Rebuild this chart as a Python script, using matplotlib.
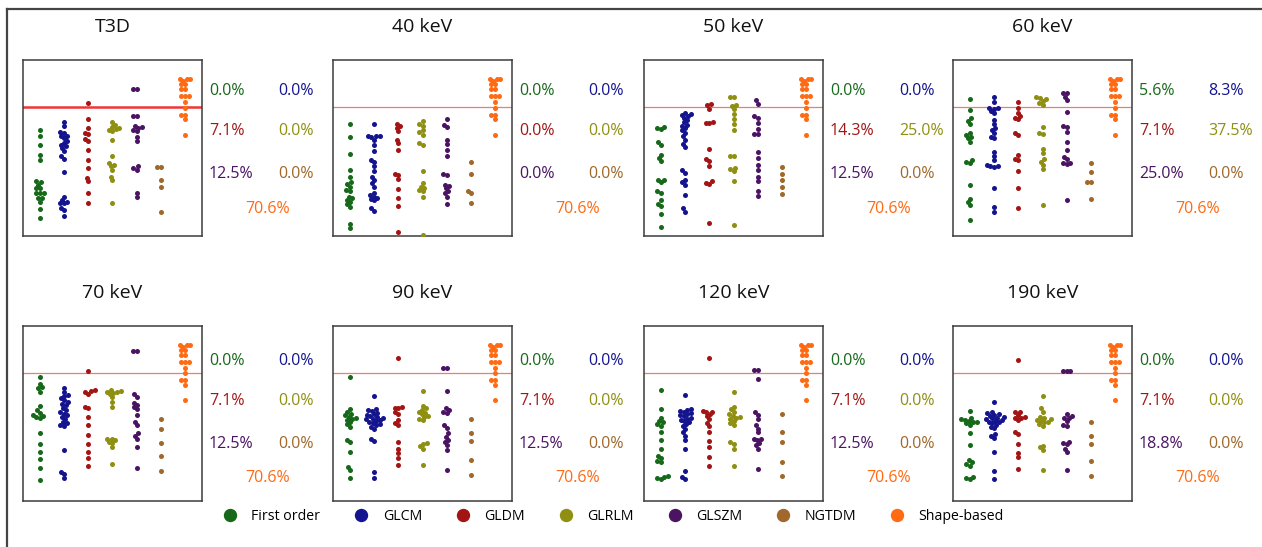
import matplotlib
matplotlib.use("Agg")
import matplotlib.pyplot as plt
import numpy as np
from matplotlib.lines import Line2D

plt.rcParams['font.family'] = ['Open Sans', 'DejaVu Sans']

# feature groups and their colours
groups = ["First order", "GLCM", "GLDM", "GLRLM", "GLSZM", "NGTDM", "Shape-based"]
colors = ["#17691a", "#14148f", "#a31515", "#8f8f12", "#4a1463", "#a0682a", "#ff6a13"]

# threshold line (same scale as the values, 0-100 over the box height)
THRESH = 73.3

# shape-based features are the same in every panel
shape = [89.0, 89.0, 89.0, 88.0, 86.1, 86.1, 83.3, 83.3, 79.5, 79.5, 79.5, 76.0,
         73.0, 69.0, 69.0, 66.2, 57.6]

# T3D
first_t3d = [60.5, 56.7, 51.5, 46.2, 43.3, 31.0, 30.4, 29.1, 27.2, 27.2, 24.3, 24.3,
             24.3, 21.5, 21.5, 19.6, 15.2, 10.1]
glcm_t3d = [64.6, 62.4, 58.9, 58.6, 56.7, 56.7, 55.7, 53.8, 52.9, 51.9, 51.0, 50.0,
            48.1, 45.2, 43.7, 36.1, 22.4, 20.5, 19.6, 18.6, 18.6, 15.8, 14.8, 11.4]
gldm_t3d = [75.7, 66.2, 61.4, 58.6, 58.2, 55.1, 53.8, 49.0, 43.3, 38.6, 32.9, 31.0, 24.3, 18.6]
glrlm_t3d = [64.6, 63.3, 62.0, 61.4, 60.8, 60.5, 59.5, 54.8, 45.6, 41.4, 40.5, 39.5,
             37.6, 33.8, 31.9, 19.0]
glszm_t3d = [83.3, 83.3, 68.1, 68.1, 62.7, 62.0, 61.4, 60.5, 59.5, 56.3, 53.8, 39.5,
             38.6, 37.6, 24.7, 22.4]
ngtdm_t3d = [39.2, 39.0, 31.9, 27.8, 13.5]

# 40 keV
first_40 = [63.7, 56.3, 46.8, 37.3, 33.8, 30.4, 29.7, 28.1, 26.2, 25.3, 22.4, 21.5,
            20.5, 19.6, 18.3, 16.7, 6.8, 4.4]
glcm_40 = [63.7, 57.0, 56.7, 56.7, 56.3, 54.8, 51.9, 48.1, 43.3, 41.8, 39.5, 36.7,
           33.8, 31.9, 30.0, 28.1, 24.7, 23.4, 22.4, 21.5, 20.9, 20.2, 15.8, 14.4]
gldm_40 = [63.9, 62.4, 61.4, 59.5, 54.8, 52.9, 49.0, 35.2, 34.8, 32.3, 26.6, 21.5, 17.1, 2.5]
glrlm_40 = [65.2, 63.9, 62.7, 60.5, 58.9, 57.6, 52.9, 51.9, 36.7, 30.0, 28.1, 27.2,
            26.2, 25.3, 22.4, 0.6]
glszm_40 = [66.5, 63.3, 62.0, 54.8, 52.5, 49.0, 45.2, 35.2, 34.8, 29.1, 28.5, 27.2,
            25.3, 24.3, 22.4, 18.3]
ngtdm_40 = [42.0, 35.2, 25.3, 24.3, 19.0]

# 50 keV
first_50 = [61.8, 61.4, 60.8, 53.2, 51.9, 46.2, 44.3, 42.4, 31.9, 31.6, 30.4, 25.3,
            24.7, 20.5, 18.3, 17.1, 12.5, 4.9]
glcm_50 = [70.0, 69.4, 68.6, 68.0, 67.0, 65.7, 64.6, 63.3, 62.4, 61.4, 60.1, 58.6,
           56.7, 54.8, 52.5, 50.6, 37.3, 35.8, 31.9, 30.4, 29.1, 23.4, 15.8, 13.9]
gldm_50 = [75.2, 74.2, 72.4, 64.8, 64.4, 64.0, 49.5, 43.8, 42.5, 39.6, 31.0, 30.1, 29.7, 7.2]
glrlm_50 = [79.2, 79.0, 74.3, 74.0, 72.0, 69.1, 66.3, 63.4, 60.2, 45.7, 45.3, 38.7,
            38.1, 36.8, 31.0, 6.3]
glszm_50 = [77.1, 75.2, 68.2, 67.2, 64.0, 61.0, 57.7, 57.7, 47.8, 44.4, 40.2, 37.7,
            33.5, 31.0, 25.3, 22.9]
ngtdm_50 = [39.2, 35.4, 31.6, 27.8, 24.0]

# 60 keV
first_60 = [77.6, 71.5, 66.8, 65.5, 63.6, 58.3, 57.3, 56.4, 55.4, 53.5, 43.1, 42.1,
            41.2, 28.8, 21.3, 19.4, 17.5, 8.9]
glcm_60 = [78.7, 76.3, 72.8, 72.5, 72.0, 70.8, 69.8, 66.0, 63.5, 61.6, 60.3, 58.4,
           56.5, 55.5, 48.0, 45.7, 43.3, 40.4, 40.0, 39.6, 39.2, 27.3, 16.3, 13.5]
gldm_60 = [76.3, 72.5, 70.0, 68.1, 66.8, 66.2, 58.3, 57.3, 45.9, 43.5, 43.1, 37.0, 27.5, 16.1]
glrlm_60 = [78.7, 78.2, 77.6, 76.9, 75.7, 74.4, 62.0, 58.6, 57.9, 49.7, 47.2, 43.5,
            42.1, 40.2, 37.8, 17.5]
glszm_60 = [81.4, 81.0, 79.1, 77.2, 70.6, 62.4, 61.7, 59.2, 53.5, 48.8, 45.0, 43.5,
            41.6, 41.2, 40.8, 20.7]
ngtdm_60 = [41.2, 36.4, 30.7, 30.5, 21.3]

# 70 keV
first_70 = [70.9, 67.1, 65.2, 64.3, 62.4, 54.2, 51.9, 50.4, 49.0, 48.5, 48.1, 47.7,
            39.0, 32.5, 28.1, 23.8, 18.6, 12.0]
glcm_70 = [64.8, 62.4, 60.5, 59.9, 58.6, 57.6, 56.7, 55.7, 54.8, 53.4, 51.9, 51.0,
           50.0, 49.0, 48.1, 47.1, 45.2, 44.3, 43.3, 42.8, 29.1, 16.7, 15.4, 12.9]
gldm_70 = [74.5, 63.7, 62.9, 62.4, 61.4, 53.8, 53.4, 48.1, 43.3, 37.6, 32.5, 28.1, 24.3, 20.0]
glrlm_70 = [63.3, 62.9, 62.4, 62.2, 61.8, 61.0, 59.5, 56.7, 53.8, 35.7, 35.4, 34.8,
            33.8, 33.3, 30.6, 21.1]
glszm_70 = [85.6, 85.6, 61.0, 59.5, 56.1, 54.8, 53.8, 52.3, 49.0, 45.2, 43.3, 38.6,
            37.1, 35.2, 31.0, 18.6]
ngtdm_70 = [46.6, 40.9, 32.9, 25.7, 17.3]

# 90 keV
first_90 = [70.9, 52.3, 51.0, 50.0, 49.0, 48.1, 47.7, 47.1, 46.2, 45.2, 43.9, 42.4,
            34.8, 33.8, 28.1, 19.6, 17.7, 12.9]
glcm_90 = [59.9, 52.3, 51.9, 51.5, 50.4, 49.6, 49.0, 48.5, 48.1, 47.7, 47.1, 46.6,
           46.2, 45.8, 45.2, 44.7, 43.9, 43.3, 42.4, 41.4, 35.7, 34.4, 16.7, 12.9]
gldm_90 = [81.7, 53.8, 53.4, 52.9, 51.0, 49.6, 46.2, 44.3, 43.3, 33.8, 30.0, 27.6, 24.3, 20.5]
glrlm_90 = [62.9, 54.2, 52.9, 51.9, 51.0, 50.4, 49.6, 48.5, 48.1, 47.1, 46.2, 32.9,
            32.3, 31.4, 30.0, 20.5]
glszm_90 = [76.0, 76.0, 62.9, 52.9, 51.9, 51.1, 50.4, 43.3, 42.0, 38.6, 36.7, 34.8,
            33.8, 31.9, 29.1, 17.7]
ngtdm_90 = [46.6, 38.6, 34.2, 23.4, 14.8]

# 120 keV
first_120 = [63.5, 52.5, 47.7, 45.8, 44.9, 43.9, 43.0, 39.2, 35.0, 29.7, 25.9, 24.3,
             23.0, 22.1, 14.4, 13.9, 13.3, 12.5]
glcm_120 = [60.5, 52.5, 52.1, 51.5, 51.0, 50.2, 49.6, 49.0, 48.3, 47.7, 47.1, 46.4,
            45.8, 44.9, 43.9, 43.0, 41.4, 39.2, 37.3, 35.0, 29.7, 17.3, 13.5, 12.5]
gldm_120 = [81.9, 51.5, 51.1, 50.6, 49.6, 48.3, 46.8, 44.5, 42.6, 39.2, 34.4, 30.6, 24.9, 20.2]
glrlm_120 = [62.4, 54.0, 52.5, 51.0, 49.6, 48.7, 48.1, 47.5, 46.8, 45.8, 44.5, 43.3,
             33.8, 32.5, 30.0, 20.2]
glszm_120 = [74.6, 74.6, 70.0, 50.6, 49.0, 46.8, 43.3, 41.4, 39.2, 35.7, 35.4, 35.0,
             33.1, 31.9, 30.0, 18.3]
ngtdm_120 = [49.6, 39.2, 33.5, 22.4, 14.4]

# 190 keV
first_190 = [51.5, 47.7, 46.8, 46.2, 45.8, 45.4, 44.9, 44.3, 43.5, 38.6, 32.1, 23.4,
             22.1, 21.1, 20.2, 13.9, 13.1, 12.5]
glcm_190 = [56.3, 51.1, 50.4, 49.6, 49.2, 48.7, 48.1, 47.7, 47.3, 46.8, 46.2, 45.8,
            45.4, 44.9, 44.3, 43.5, 42.4, 41.6, 38.2, 37.3, 35.9, 27.8, 17.3, 12.5]
gldm_190 = [80.4, 51.1, 50.6, 49.2, 48.1, 47.7, 47.3, 46.2, 39.2, 38.2, 32.5, 27.2, 24.9, 18.3]
glrlm_190 = [60.1, 53.0, 51.1, 48.1, 47.3, 46.8, 46.2, 45.8, 45.4, 44.9, 43.9, 43.0,
             31.6, 30.6, 29.1, 17.7]
glszm_190 = [74.3, 74.3, 74.3, 49.6, 48.7, 47.7, 47.3, 45.8, 43.5, 43.0, 34.0, 32.9,
             32.5, 29.7, 27.8, 17.7]
ngtdm_190 = [44.9, 37.3, 32.5, 22.6, 14.4]

panels = [
    ("T3D", [first_t3d, glcm_t3d, gldm_t3d, glrlm_t3d, glszm_t3d, ngtdm_t3d, shape]),
    ("40 keV", [first_40, glcm_40, gldm_40, glrlm_40, glszm_40, ngtdm_40, shape]),
    ("50 keV", [first_50, glcm_50, gldm_50, glrlm_50, glszm_50, ngtdm_50, shape]),
    ("60 keV", [first_60, glcm_60, gldm_60, glrlm_60, glszm_60, ngtdm_60, shape]),
    ("70 keV", [first_70, glcm_70, gldm_70, glrlm_70, glszm_70, ngtdm_70, shape]),
    ("90 keV", [first_90, glcm_90, gldm_90, glrlm_90, glszm_90, ngtdm_90, shape]),
    ("120 keV", [first_120, glcm_120, gldm_120, glrlm_120, glszm_120, ngtdm_120, shape]),
    ("190 keV", [first_190, glcm_190, gldm_190, glrlm_190, glszm_190, ngtdm_190, shape]),
]

W, H = 1262, 547
fig = plt.figure(figsize=(W / 100, H / 100), dpi=100)

lefts = [23, 333, 644, 953]
tops = [60, 326]
heights = [176, 175]
box_w = 179
XLIM = (-0.7, 6.7)
DOT = 3.8  # swarm spacing in pixels


def swarm(values, px_per_unit, d):
    # simple beeswarm: place each point as close to the centre as possible
    y = np.asarray(values) * px_per_unit
    xs = np.zeros(len(y))
    placed = []
    for i in np.argsort(y):
        cands = [0.0]
        for px, py in placed:
            dy = abs(y[i] - py)
            if dy < d:
                dx = np.sqrt(d * d - dy * dy)
                cands += [px - dx, px + dx]
        cands.sort(key=abs)
        for c in cands:
            if all((c - px) ** 2 + (y[i] - py) ** 2 >= d * d - 1e-6 for px, py in placed):
                break
        xs[i] = c
        placed.append((c, y[i]))
    return xs


text_rows = [[0.824, 0.597, 0.352, 0.153], [0.80, 0.573, 0.326, 0.131]]

for k, (title, data) in enumerate(panels):
    r, c = divmod(k, 4)
    h = heights[r]
    ax = fig.add_axes([lefts[c] / W, (H - tops[r] - h) / H, box_w / W, h / H])
    ax.set_xlim(*XLIM)
    ax.set_ylim(0, 100)
    ax.set_xticks([])
    ax.set_yticks([])
    for s in ax.spines.values():
        s.set_color("#3c3c3c")
        s.set_linewidth(1.1)

    px_y = h / 100.0
    px_x = box_w / (XLIM[1] - XLIM[0])
    for g, vals in enumerate(data):
        offs = swarm(vals, px_y, DOT) / px_x
        ax.scatter(g + offs, vals, s=13, color=colors[g], linewidths=0, zorder=3)

    if k == 0:
        ax.axhline(THRESH, color="#ef3535", lw=1.8, zorder=2)
    else:
        ax.axhline(THRESH, color="#f07a7a", lw=0.9, zorder=2)

    ax.text(0.5, 1 + 33 / h, title, transform=ax.transAxes, ha="center",
            va="center", fontsize=14, color="#111111")

    pct = [100.0 * sum(v > THRESH for v in vals) / len(vals) for vals in data]
    labels = ["%.1f%%" % p for p in pct]
    ty = text_rows[r]
    x1 = 1 + 7 / box_w
    x2 = 1 + 76 / box_w
    spots = [(x1, ty[0]), (x2, ty[0]), (x1, ty[1]), (x2, ty[1]), (x1, ty[2]), (x2, ty[2])]
    for g in range(6):
        ax.text(spots[g][0], spots[g][1], labels[g], transform=ax.transAxes,
                ha="left", va="center", fontsize=11.5, color=colors[g])
    ax.text(1 + 66 / box_w, ty[3], labels[6], transform=ax.transAxes,
            ha="center", va="center", fontsize=11.5, color=colors[6])

# outer frame (left and top edges only)
fig.add_artist(Line2D([7 / W, 7 / W], [0, 1 - 9 / H], transform=fig.transFigure,
                      color="#444444", lw=1.6))
fig.add_artist(Line2D([7 / W, 1], [1 - 9 / H, 1 - 9 / H], transform=fig.transFigure,
                      color="#444444", lw=1.6))

handles = [Line2D([], [], marker="o", ls="", color=col, markersize=8.6) for col in colors]
fig.legend(handles, groups, ncol=7, loc="center", bbox_to_anchor=(0.486, 0.055),
           frameon=False, fontsize=10.2, handlelength=1.0, handletextpad=1.0,
           columnspacing=2.4)

fig.savefig("out.png", dpi=100)
